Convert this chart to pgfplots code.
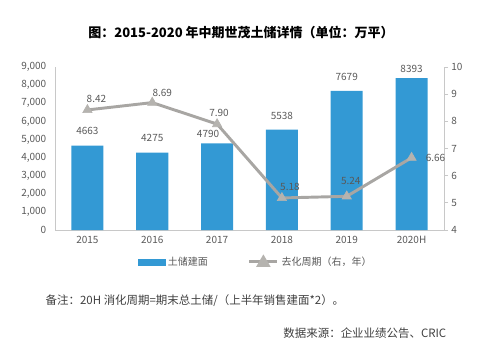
\documentclass[border=0pt]{standalone}
\usepackage{pgfplots}
\pgfplotsset{compat=1.18}
\usepackage{fontspec}
\setmainfont{Noto Sans CJK SC}
\definecolor{barblue}{HTML}{3399D4}
\definecolor{linegray}{HTML}{A8A6A3}
\definecolor{markgray}{HTML}{B5B3AF}
\definecolor{txt}{HTML}{595959}
\definecolor{axgray}{HTML}{C8C8C8}
\begin{document}
\begin{tikzpicture}[x=0.75pt,y=0.75pt]
\useasboundingbox (0,0) rectangle (484,355);
\node[font=\bfseries\fontsize{9.75}{11}\selectfont, text=black] at (241,323) {图：2015-2020 年中期世茂土储详情（单位：万平）};
\begin{axis}[
  at={(41.25pt,93.75pt)}, anchor=south west,
  scale only axis, width=291.75pt, height=122.25pt,
  xmin=-0.5, xmax=5.5, ymin=0, ymax=9000,
  ytick={0,1000,...,9000},
  scaled y ticks=false,
  /pgf/number format/assume math mode=true,
  /pgf/number format/1000 sep={,},
  xtick={0,...,5}, xticklabels={2015,2016,2017,2018,2019,2020H},
  axis x line*=bottom, axis y line*=left,
  axis line style={axgray, line width=0.6pt},
  xtick style={draw=none}, ytick style={draw=none},
  extra x ticks={-0.5,0.5,1.5,2.5,3.5,4.5,5.5},
  extra x tick labels={},
  extra x tick style={tick align=outside, major tick length=3pt, tick style={draw=axgray, line width=0.6pt}},
  ticklabel style={font=\fontsize{7.5}{9}\selectfont, text=txt},
  yticklabel style={xshift=-3pt},
  xticklabel style={yshift=-1pt},
  clip=false,
]
\addplot[ybar, bar width=24pt, fill=barblue, draw=none,
  nodes near coords, point meta=explicit symbolic,
  visualization depends on={\thisrow{dx} \as \dx},
  visualization depends on={\thisrow{dy} \as \dy},
  every node near coord/.append style={font=\fontsize{7.5}{9}\selectfont, text=txt, anchor=center,
    xshift={\dx*0.75pt}, yshift={\dy*0.75pt}},
] table[x=x, y=y, meta=lab] {
x y dx dy lab
0 4663 0 14.5 4663
1 4275 0 14.5 4275
2 4790 -9 9.5 4790
3 5538 0 14 5538
4 7679 0 14 7679
5 8393 0 9.5 8393
};
\end{axis}
\begin{axis}[
  at={(41.25pt,93.75pt)}, anchor=south west,
  scale only axis, width=291.75pt, height=122.25pt,
  xmin=-0.5, xmax=5.5, ymin=4, ymax=10,
  axis y line*=right, axis x line=none,
  ytick={4,...,10},
  tick align=outside, major tick length=3pt,
  ytick style={draw=axgray, line width=0.6pt},
  axis line style={axgray, line width=0.6pt},
  /pgf/number format/assume math mode=true,
  ticklabel style={font=\fontsize{7.5}{9}\selectfont, text=txt},
  yticklabel style={xshift=-1pt},
  clip=false,
  legend columns=2,
  legend style={draw=none, fill=none, at={(0.517,-0.196)}, anchor=center,
    font=\fontsize{7.5}{9}\selectfont, text=txt,
    /tikz/every even column/.append style={column sep=28pt}},
]
\addlegendimage{legend image code/.code={\fill[barblue] (0pt,-2.25pt) rectangle (20pt,2.25pt);}}
\addlegendentry{土储建面}
\addplot[linegray, line width=2.2pt, mark=triangle*, mark size=4pt,
  mark options={fill=markgray, draw=markgray, line width=0.5pt},
  legend image code/.code={\draw[linegray, line width=2.2pt] (0pt,0pt) -- (21pt,0pt);
     \fill[markgray] (10.5pt,0pt) +(-3.5pt,-2.5pt) -- +(3.5pt,-2.5pt) -- +(0pt,3.5pt) -- cycle;},
  nodes near coords, point meta=explicit symbolic,
  visualization depends on={\thisrow{dx} \as \dx},
  visualization depends on={\thisrow{dy} \as \dy},
  every node near coord/.append style={font=\fontsize{7.5}{9}\selectfont, text=txt, anchor=center,
    xshift={\dx*0.75pt}, yshift={\dy*0.75pt}},
] table[x=x, y=y, meta=lab] {
x y dx dy lab
0 8.42 9 11 8.42
1 8.69 10 10 8.69
2 7.90 2 11 7.90
3 5.18 8 11 5.18
4 5.24 4 15 5.24
5 6.66 24 0 6.66
};
\addlegendentry{去化周期（右，年）}
\end{axis}
\node[anchor=west, font=\fontsize{8.6}{10}\selectfont, text=black!75] at (41,54) {备注：20H 消化周期=期末总土储/（上半年销售建面*2）。};
\node[anchor=east, font=\fontsize{8.6}{10}\selectfont, text=black!75] at (451,22) {数据来源：企业业绩公告、CRIC};
\end{tikzpicture}
\end{document}
